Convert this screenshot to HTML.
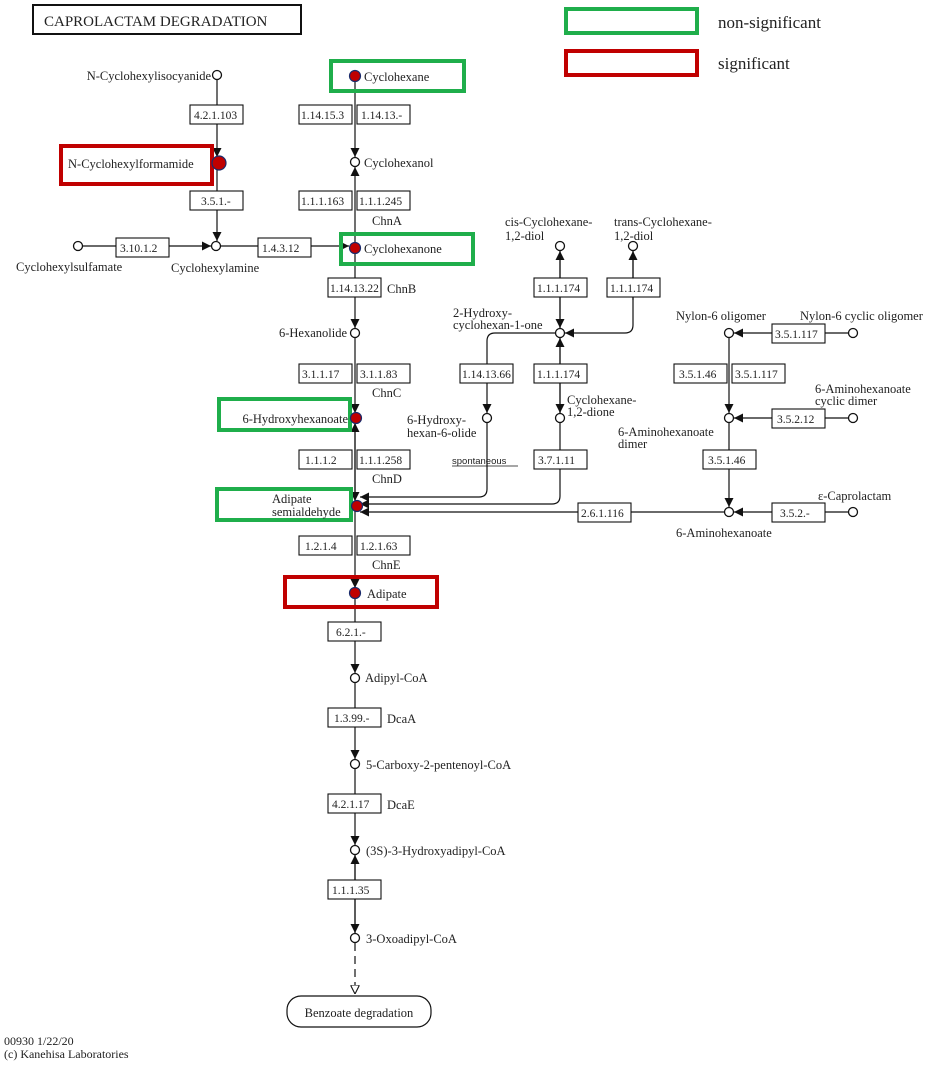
<!DOCTYPE html>
<html><head><meta charset="utf-8"><style>
html,body{margin:0;padding:0;background:#fff}
svg{display:block}
text{font-family:"Liberation Serif",serif;fill:#222}
.l{font-size:12.5px}
.e{font-size:11.5px}
.n{fill:#fff;stroke:#111;stroke-width:1.3}
.r{fill:#c00000;stroke:#1a2a6a;stroke-width:1.2}
.b{fill:#fff;stroke:#111;stroke-width:1.1}
.ln{stroke:#111;stroke-width:1.2;fill:none}
.g{fill:none;stroke:#1fae4b;stroke-width:4}
.rd{fill:none;stroke:#c00000;stroke-width:4}
</style></head><body>
<svg width="941" height="1067" viewBox="0 0 941 1067" xmlns="http://www.w3.org/2000/svg">
<defs>
<marker id="a" viewBox="0 0 10 10" refX="10" refY="5" markerWidth="9" markerHeight="9" markerUnits="userSpaceOnUse" orient="auto"><path d="M0,0 L10,5 L0,10 z" fill="#111"/></marker>
<marker id="o" viewBox="0 0 10 10" refX="10" refY="5" markerWidth="9" markerHeight="9" markerUnits="userSpaceOnUse" orient="auto"><path d="M0,0 L10,5 L0,10 z" fill="#fff" stroke="#111" stroke-width="1.2"/></marker>
</defs>

<!-- title and legend -->
<rect x="33" y="5" width="268" height="29" fill="none" stroke="#111" stroke-width="2"/>
<text x="44" y="26" style="font-size:15px">CAPROLACTAM  DEGRADATION</text>
<rect x="566" y="9" width="131" height="24" class="g"/>
<rect x="566" y="51" width="131" height="24" class="rd"/>
<text x="718" y="28" style="font-size:17px">non-significant</text>
<text x="718" y="69" style="font-size:17px">significant</text>

<!-- lines main column -->
<line x1="355" y1="80" x2="355" y2="157" class="ln" marker-end="url(#a)"/>
<line x1="355" y1="243" x2="355" y2="167" class="ln" marker-end="url(#a)"/>
<line x1="355" y1="253" x2="355" y2="328" class="ln" marker-end="url(#a)"/>
<line x1="355" y1="338" x2="355" y2="413" class="ln" marker-end="url(#a)"/>
<line x1="355" y1="500" x2="355" y2="423" class="ln" marker-end="url(#a)"/>
<line x1="355" y1="423" x2="355" y2="501" class="ln" marker-end="url(#a)"/>
<line x1="355" y1="511" x2="355" y2="588" class="ln" marker-end="url(#a)"/>
<line x1="355" y1="598" x2="355" y2="673" class="ln" marker-end="url(#a)"/>
<line x1="355" y1="683" x2="355" y2="759" class="ln" marker-end="url(#a)"/>
<line x1="355" y1="769" x2="355" y2="845" class="ln" marker-end="url(#a)"/>
<line x1="355" y1="933" x2="355" y2="855" class="ln" marker-end="url(#a)"/>
<line x1="355" y1="855" x2="355" y2="933" class="ln" marker-end="url(#a)"/>
<line x1="355" y1="943" x2="355" y2="994" class="ln" stroke-dasharray="8,5" marker-end="url(#o)"/>

<!-- left branch -->
<line x1="217" y1="80" x2="217" y2="157" class="ln" marker-end="url(#a)"/>
<line x1="217" y1="168" x2="217" y2="241" class="ln" marker-end="url(#a)"/>
<line x1="83" y1="246" x2="211" y2="246" class="ln" marker-end="url(#a)"/>
<line x1="221" y1="246" x2="349" y2="246" class="ln" marker-end="url(#a)"/>

<!-- middle -->
<line x1="560" y1="328" x2="560" y2="251" class="ln" marker-end="url(#a)"/>
<line x1="560" y1="251" x2="560" y2="328" class="ln" marker-end="url(#a)"/>
<path d="M560,413 L560,338" class="ln" marker-end="url(#a)"/>
<path d="M560,338 L560,413" class="ln" marker-end="url(#a)"/>
<path d="M633,251 L633,325 Q633,333 625,333 L565,333" class="ln" marker-end="url(#a)"/>
<line x1="633" y1="300" x2="633" y2="251" class="ln" marker-end="url(#a)"/>
<path d="M555,333 L495,333 Q487,333 487,341 L487,413" class="ln" marker-end="url(#a)"/>
<path d="M487,423 L487,489 Q487,497 479,497 L360,497" class="ln" marker-end="url(#a)"/>
<path d="M560,423 L560,496 Q560,504 552,504 L360,504" class="ln" marker-end="url(#a)"/>
<line x1="724" y1="512" x2="360" y2="512" class="ln" marker-end="url(#a)"/>

<!-- right -->
<line x1="848" y1="333" x2="734" y2="333" class="ln" marker-end="url(#a)"/>
<line x1="729" y1="338" x2="729" y2="413" class="ln" marker-end="url(#a)"/>
<line x1="848" y1="418" x2="734" y2="418" class="ln" marker-end="url(#a)"/>
<line x1="729" y1="423" x2="729" y2="507" class="ln" marker-end="url(#a)"/>
<line x1="848" y1="512" x2="734" y2="512" class="ln" marker-end="url(#a)"/>

<!-- highlight boxes -->
<rect x="331" y="61" width="133" height="30" class="g"/>
<rect x="61" y="146" width="151" height="38" class="rd"/>
<rect x="341" y="234" width="132" height="30" class="g"/>
<rect x="219" y="399" width="131" height="31" class="g"/>
<rect x="217" y="489" width="134" height="31" class="g"/>
<rect x="285" y="577" width="152" height="30" class="rd"/>

<!-- nodes -->
<circle cx="355" cy="76" r="5.5" class="r"/>
<circle cx="355" cy="162" r="4.5" class="n"/>
<circle cx="355" cy="248" r="5.5" class="r"/>
<circle cx="355" cy="333" r="4.5" class="n"/>
<circle cx="356" cy="418" r="5.5" class="r"/>
<circle cx="357" cy="506" r="5.5" class="r"/>
<circle cx="355" cy="593" r="5.5" class="r"/>
<circle cx="355" cy="678" r="4.5" class="n"/>
<circle cx="355" cy="764" r="4.5" class="n"/>
<circle cx="355" cy="850" r="4.5" class="n"/>
<circle cx="355" cy="938" r="4.5" class="n"/>
<circle cx="217" cy="75" r="4.5" class="n"/>
<circle cx="219" cy="163" r="7" class="r"/>
<circle cx="216" cy="246" r="4.5" class="n"/>
<circle cx="78" cy="246" r="4.5" class="n"/>
<circle cx="560" cy="246" r="4.5" class="n"/>
<circle cx="633" cy="246" r="4.5" class="n"/>
<circle cx="560" cy="333" r="4.5" class="n"/>
<circle cx="487" cy="418" r="4.5" class="n"/>
<circle cx="560" cy="418" r="4.5" class="n"/>
<circle cx="729" cy="333" r="4.5" class="n"/>
<circle cx="853" cy="333" r="4.5" class="n"/>
<circle cx="729" cy="418" r="4.5" class="n"/>
<circle cx="853" cy="418" r="4.5" class="n"/>
<circle cx="729" cy="512" r="4.5" class="n"/>
<circle cx="853" cy="512" r="4.5" class="n"/>

<!-- enzyme boxes -->
<g class="e">
<rect x="190" y="105" width="53" height="19" class="b"/><text x="194" y="119">4.2.1.103</text>
<rect x="190" y="191" width="53" height="19" class="b"/><text x="201" y="205">3.5.1.-</text>
<rect x="116" y="238" width="53" height="19" class="b"/><text x="120" y="252">3.10.1.2</text>
<rect x="258" y="238" width="53" height="19" class="b"/><text x="262" y="252">1.4.3.12</text>
<rect x="299" y="105" width="53" height="19" class="b"/><text x="301" y="119">1.14.15.3</text>
<rect x="357" y="105" width="53" height="19" class="b"/><text x="361" y="119">1.14.13.-</text>
<rect x="299" y="191" width="53" height="19" class="b"/><text x="301" y="205">1.1.1.163</text>
<rect x="357" y="191" width="53" height="19" class="b"/><text x="359" y="205">1.1.1.245</text>
<rect x="328" y="278" width="53" height="19" class="b"/><text x="330" y="292">1.14.13.22</text>
<rect x="299" y="364" width="53" height="19" class="b"/><text x="302" y="378">3.1.1.17</text>
<rect x="357" y="364" width="53" height="19" class="b"/><text x="360" y="378">3.1.1.83</text>
<rect x="299" y="450" width="53" height="19" class="b"/><text x="305" y="464">1.1.1.2</text>
<rect x="357" y="450" width="53" height="19" class="b"/><text x="359" y="464">1.1.1.258</text>
<rect x="299" y="536" width="53" height="19" class="b"/><text x="305" y="550">1.2.1.4</text>
<rect x="357" y="536" width="53" height="19" class="b"/><text x="360" y="550">1.2.1.63</text>
<rect x="328" y="622" width="53" height="19" class="b"/><text x="336" y="636">6.2.1.-</text>
<rect x="328" y="708" width="53" height="19" class="b"/><text x="334" y="722">1.3.99.-</text>
<rect x="328" y="794" width="53" height="19" class="b"/><text x="332" y="808">4.2.1.17</text>
<rect x="328" y="880" width="53" height="19" class="b"/><text x="332" y="894">1.1.1.35</text>
<rect x="534" y="278" width="53" height="19" class="b"/><text x="537" y="292">1.1.1.174</text>
<rect x="607" y="278" width="53" height="19" class="b"/><text x="610" y="292">1.1.1.174</text>
<rect x="460" y="364" width="53" height="19" class="b"/><text x="462" y="378">1.14.13.66</text>
<rect x="534" y="364" width="53" height="19" class="b"/><text x="537" y="378">1.1.1.174</text>
<rect x="534" y="450" width="53" height="19" class="b"/><text x="538" y="464">3.7.1.11</text>
<rect x="578" y="503" width="53" height="19" class="b"/><text x="581" y="517">2.6.1.116</text>
<rect x="772" y="324" width="53" height="19" class="b"/><text x="775" y="338">3.5.1.117</text>
<rect x="674" y="364" width="53" height="19" class="b"/><text x="679" y="378">3.5.1.46</text>
<rect x="732" y="364" width="53" height="19" class="b"/><text x="735" y="378">3.5.1.117</text>
<rect x="772" y="409" width="53" height="19" class="b"/><text x="777" y="423">3.5.2.12</text>
<rect x="703" y="450" width="53" height="19" class="b"/><text x="708" y="464">3.5.1.46</text>
<rect x="772" y="503" width="53" height="19" class="b"/><text x="780" y="517">3.5.2.-</text>
</g>

<!-- labels -->
<g class="l">
<text x="211" y="80" text-anchor="end">N-Cyclohexylisocyanide</text>
<text x="68" y="168">N-Cyclohexylformamide</text>
<text x="16" y="271">Cyclohexylsulfamate</text>
<text x="171" y="272">Cyclohexylamine</text>
<text x="364" y="81">Cyclohexane</text>
<text x="364" y="167">Cyclohexanol</text>
<text x="364" y="253">Cyclohexanone</text>
<text x="372" y="225">ChnA</text>
<text x="387" y="293">ChnB</text>
<text x="347" y="337" text-anchor="end">6-Hexanolide</text>
<text x="372" y="397">ChnC</text>
<text x="348" y="423" text-anchor="end">6-Hydroxyhexanoate</text>
<text x="372" y="483">ChnD</text>
<text x="272" y="503">Adipate</text>
<text x="272" y="516">semialdehyde</text>
<text x="372" y="569">ChnE</text>
<text x="367" y="598">Adipate</text>
<text x="365" y="682">Adipyl-CoA</text>
<text x="387" y="723">DcaA</text>
<text x="366" y="769">5-Carboxy-2-pentenoyl-CoA</text>
<text x="387" y="809">DcaE</text>
<text x="366" y="855">(3S)-3-Hydroxyadipyl-CoA</text>
<text x="366" y="943">3-Oxoadipyl-CoA</text>
<text x="505" y="226">cis-Cyclohexane-</text>
<text x="505" y="240">1,2-diol</text>
<text x="614" y="226">trans-Cyclohexane-</text>
<text x="614" y="240">1,2-diol</text>
<text x="453" y="317">2-Hydroxy-</text>
<text x="453" y="329">cyclohexan-1-one</text>
<text x="407" y="424">6-Hydroxy-</text>
<text x="407" y="437">hexan-6-olide</text>
<text x="567" y="404">Cyclohexane-</text>
<text x="567" y="416">1,2-dione</text>
<text x="676" y="320">Nylon-6 oligomer</text>
<text x="800" y="320">Nylon-6 cyclic oligomer</text>
<text x="815" y="393">6-Aminohexanoate</text>
<text x="815" y="405">cyclic dimer</text>
<text x="618" y="436">6-Aminohexanoate</text>
<text x="618" y="448">dimer</text>
<text x="818" y="500">ε-Caprolactam</text>
<text x="676" y="537">6-Aminohexanoate</text>
</g>
<text x="452" y="464" style="font-size:9.5px;font-family:'Liberation Sans',sans-serif">spontaneous</text>
<line x1="452" y1="466" x2="518" y2="466" stroke="#111" stroke-width="0.8"/>

<rect x="287" y="996" width="144" height="31" rx="14" ry="14" fill="#fff" stroke="#111" stroke-width="1.2"/>
<text x="359" y="1017" text-anchor="middle" class="l">Benzoate degradation</text>

<text x="4" y="1045" style="font-size:12px">00930 1/22/20</text>
<text x="4" y="1058" style="font-size:12px">(c) Kanehisa Laboratories</text>
</svg>
</body></html>
